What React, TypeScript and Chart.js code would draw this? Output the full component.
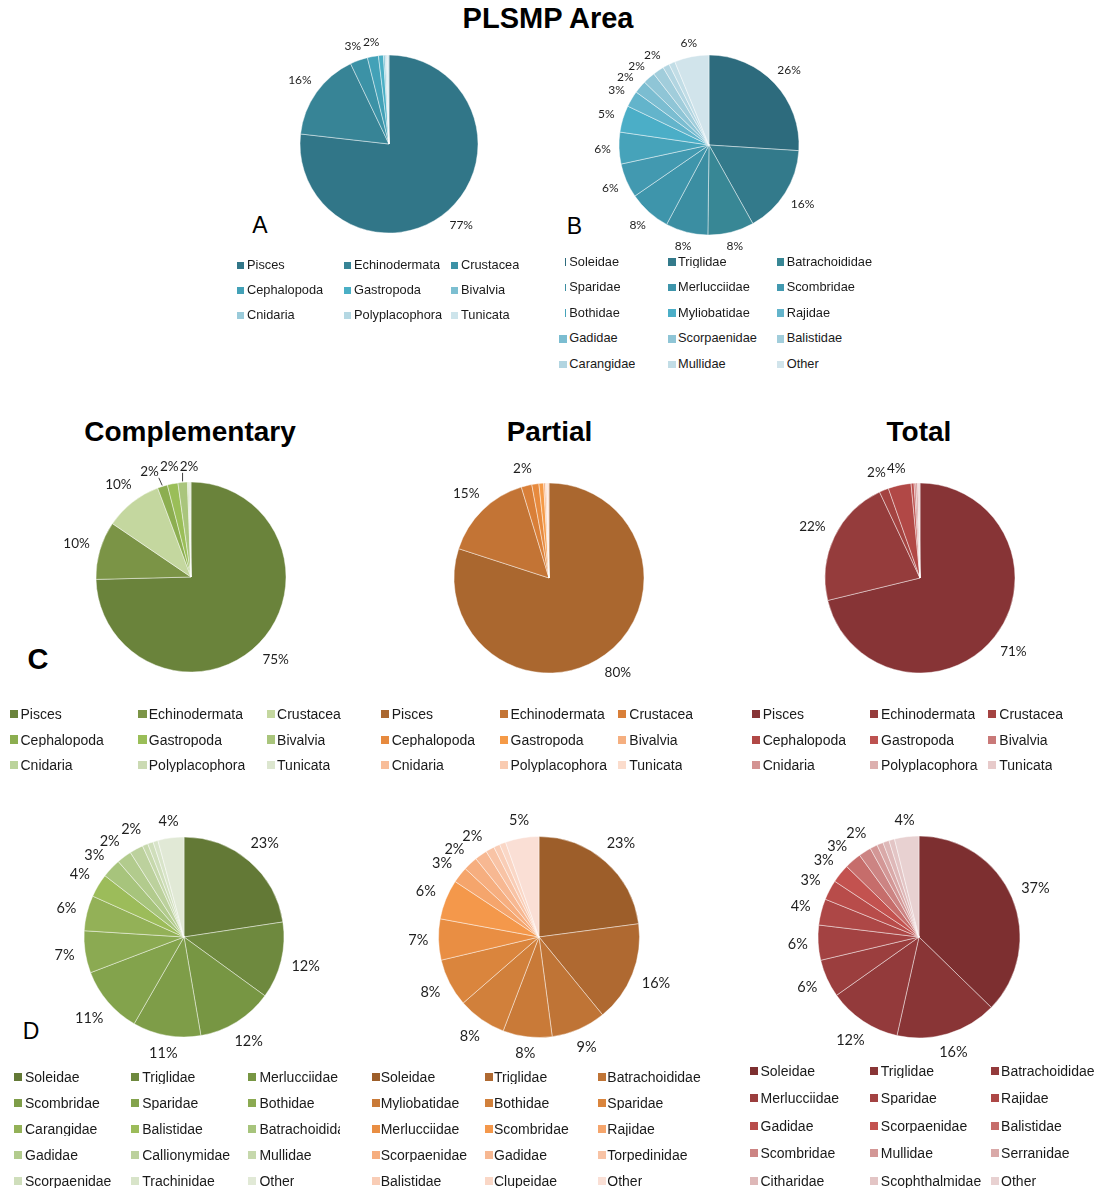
import React, { useEffect, useRef } from "react";
import { Chart, registerables } from "chart.js";

Chart.register(...registerables);

// ---------- DATA ----------
const taxaGroups = ["Pisces", "Echinodermata", "Crustacea", "Cephalopoda", "Gastropoda", "Bivalvia", "Cnidaria", "Polyplacophora", "Tunicata"];
const plsmpTaxaValues = [76.8, 16.1, 3.2, 2.0, 0.9, 0.3, 0.2, 0.2, 0.3];
const complementaryTaxaValues = [74.6, 9.9, 9.8, 1.7, 1.8, 1.6, 0.2, 0.2, 0.2];
const partialTaxaValues = [80.0, 15.3, 1.8, 1.2, 0.8, 0.3, 0.2, 0.1, 0.3];
const totalTaxaValues = [71.2, 21.8, 1.6, 3.9, 0.5, 0.3, 0.3, 0.2, 0.2];

const plsmpFamilies = ["Soleidae", "Triglidae", "Batrachoididae", "Sparidae", "Merlucciidae", "Scombridae", "Bothidae", "Myliobatidae", "Rajidae", "Gadidae", "Scorpaenidae", "Balistidae", "Carangidae", "Mullidae", "Other"];
const plsmpFamilyValues = [26.0, 15.9, 8.3, 7.6, 7.6, 6.2, 5.7, 4.8, 2.9, 2.3, 2.2, 2.0, 1.2, 1.1, 6.2];

const complementaryFamilies = ["Soleidae", "Triglidae", "Merlucciidae", "Scombridae", "Sparidae", "Bothidae", "Carangidae", "Balistidae", "Batrachoididae", "Gadidae", "Callionymidae", "Mullidae", "Scorpaenidae", "Trachinidae", "Other"];
const complementaryFamilyValues = [22.6, 12.4, 12.3, 11.0, 10.9, 6.8, 5.7, 3.8, 3.1, 2.4, 2.2, 0.9, 0.9, 0.8, 4.2];

const partialFamilies = ["Soleidae", "Triglidae", "Batrachoididae", "Myliobatidae", "Bothidae", "Sparidae", "Merlucciidae", "Scombridae", "Rajidae", "Scorpaenidae", "Gadidae", "Torpedinidae", "Balistidae", "Clupeidae", "Other"];
const partialFamilyValues = [22.9, 16.2, 8.8, 7.9, 7.8, 7.7, 6.6, 6.4, 2.6, 2.3, 2.0, 1.4, 1.0, 1.0, 5.4];

const totalFamilies = ["Soleidae", "Triglidae", "Batrachoididae", "Merlucciidae", "Sparidae", "Rajidae", "Gadidae", "Scorpaenidae", "Balistidae", "Scombridae", "Mullidae", "Serranidae", "Citharidae", "Scophthalmidae", "Other"];
const totalFamilyValues = [37.3, 16.2, 11.7, 6.1, 5.6, 4.2, 3.2, 3.0, 2.7, 2.0, 1.2, 1.0, 1.0, 0.9, 3.9];

// ---------- COLOURS ----------
const plsmpTaxaColors = ["#317688", "#378496", "#3C92A6", "#43A1B7", "#4AAFC5", "#7CBFD1", "#9ACBDA", "#B5D8E3", "#CDE4EB"];
const plsmpFamilyColors = ["#2D6B7D", "#337A8B", "#388795", "#3B8EA2", "#3E95AB", "#4299B0", "#46A3BA", "#4BAEC7", "#63B4CB", "#7BBDD1", "#8FC5D6", "#A1CDDB", "#B2D5E1", "#C2DDE6", "#D1E4EB"];
const plsmpThinMarkers = ["Soleidae", "Sparidae", "Bothidae"];
const compTaxaColors = ["#6A833B", "#7B9446", "#C4D79F", "#8CAE50", "#9ABE58", "#A9C57C", "#BBD39B", "#CBDAB3", "#DCE6CF"];
const partialTaxaColors = ["#AA672F", "#C37435", "#D97F38", "#E78A3E", "#F59A47", "#F5AF80", "#F8BD99", "#F9CBB1", "#FBDCCC"];
const totalTaxaColors = ["#873436", "#953C3C", "#A44341", "#B14846", "#BD5250", "#C97978", "#D39392", "#DDB0AF", "#E7CACA"];
const compFamilyColors = ["#637936", "#6E893E", "#779643", "#7E9D48", "#83A34C", "#8BAA52", "#93B157", "#9CBC5A", "#A7C47C", "#B2CB8D", "#BCD19D", "#C6D8AC", "#CFDEBB", "#D8E4C9", "#E1E9D6"];
const partialFamilyColors = ["#9D5E2A", "#AF6931", "#BF7436", "#C97A38", "#D1803B", "#DA853D", "#E98E43", "#F4984B", "#F5A56C", "#F6AE7F", "#F7B892", "#F8C3A5", "#F9CDB6", "#FAD7C6", "#FADFD5"];
const totalFamilyColors = ["#7D2F30", "#893536", "#933A3B", "#9B3E3E", "#A34242", "#AD4746", "#B84C4A", "#C3524F", "#C66D6B", "#CC8483", "#D39796", "#D9A9A8", "#DEB8B8", "#E3C5C5", "#E8D1D1"];

// ---------- LABEL PLUGIN ----------
const pctLabelPlugin = {
  id: "pctLabels",
  afterDatasetsDraw(chart: any, _args: any, opts: any) {
    const ctx = chart.ctx;
    const meta = chart.getDatasetMeta(0);
    const data = chart.data.datasets[0].data as number[];
    const total = data.reduce((a, b) => a + b, 0);
    const fs = opts.fontSize || 12;
    const gap = opts.gap || 8;
    const hb = fs * 0.8;
    ctx.save();
    ctx.font = `${fs}px Lato, "Open Sans", sans-serif`;
    const items: any[] = [];
    meta.data.forEach((arc: any, i: number) => {
      const pct = Math.round((data[i] / total) * 100 + 1e-6);
      if (pct < 2) return;
      const p = arc.getProps(["x", "y", "startAngle", "endAngle", "outerRadius"], true);
      const mid = (p.startAngle + p.endAngle) / 2;
      const text = pct + "%";
      const w = ctx.measureText(text).width;
      items.push({ text, w, mid, ang: mid, cx: p.x, cy: p.y, R: p.outerRadius, x: 0, y: 0 });
    });
    const place = (it: any) => {
      const dx = Math.cos(it.ang), dy = Math.sin(it.ang);
      const d = it.R + gap + (Math.abs(dx) * it.w) / 2 + (Math.abs(dy) * hb) / 2;
      it.x = it.cx + dx * d;
      it.y = it.cy + dy * d;
    };
    items.forEach(place);
    const overlap = (a: any, b: any) => Math.abs(a.x - b.x) < (a.w + b.w) / 2 + 1 && Math.abs(a.y - b.y) < hb + 1.5;
    const step = Math.PI / 720;
    for (let iter = 0; iter < 500; iter++) {
      let moved = false;
      for (let i = 0; i < items.length; i++) {
        for (let j = i + 1; j < items.length; j++) {
          if (overlap(items[i], items[j])) {
            items[i].ang -= step;
            items[j].ang += step;
            place(items[i]);
            place(items[j]);
            moved = true;
          }
        }
      }
      if (!moved) break;
    }
    ctx.fillStyle = "#1e1e1e";
    ctx.textAlign = "center";
    ctx.textBaseline = "middle";
    items.forEach((it) => {
      if (Math.abs(it.ang - it.mid) > 0.045) {
        const sx = it.cx + Math.cos(it.mid) * (it.R + 1);
        const sy = it.cy + Math.sin(it.mid) * (it.R + 1);
        const ex = Math.min(Math.max(sx, it.x - it.w / 2), it.x + it.w / 2);
        const ey = Math.min(Math.max(sy, it.y - hb / 2 - 1), it.y + hb / 2 + 1);
        ctx.strokeStyle = "#404040";
        ctx.lineWidth = 1;
        ctx.beginPath();
        ctx.moveTo(sx, sy);
        ctx.lineTo(ex, ey);
        ctx.stroke();
      }
      ctx.fillText(it.text, it.x, it.y);
    });
    ctx.restore();
  },
};

// ---------- COMPONENTS ----------
function PieChart(props: any) {
  const { values, labels, colors, cx, cy, r, fontSize, gap } = props;
  const ref = useRef<HTMLCanvasElement>(null);
  const S = 330;
  useEffect(() => {
    const pad = S / 2 - r - 0.4;
    const chart = new Chart(ref.current as HTMLCanvasElement, {
      type: "pie",
      data: {
        labels,
        datasets: [
          {
            data: values,
            backgroundColor: colors,
            borderColor: "rgba(255,255,255,0.55)",
            borderWidth: 0.8,
          },
        ],
      },
      options: {
        responsive: false,
        animation: false,
        events: [],
        layout: { padding: pad },
        plugins: {
          legend: { display: false },
          tooltip: { enabled: false },
          pctLabels: { fontSize, gap },
        } as any,
      },
      plugins: [pctLabelPlugin as any],
    });
    return () => chart.destroy();
  }, []);
  return (
    <canvas
      ref={ref}
      width={S}
      height={S}
      style={{ position: "absolute", left: cx - S / 2, top: cy - S / 2, width: S, height: S }}
    />
  );
}

function Legend(props: any) {
  const { names, colors, left, top, colW, rowH, fontSize, marker, textOffset, lastColMax, thin } = props;
  return (
    <>
      {names.map((n: string, i: number) => {
        const col = i % 3;
        const row = Math.floor(i / 3);
        const x = left + col * colW;
        const y = top + row * rowH;
        const isThin = thin && thin.includes(n);
        return (
          <div
            key={i}
            style={{ position: "absolute", left: x, top: y - 10, height: 20, display: "flex", alignItems: "center", whiteSpace: "nowrap" }}
          >
            <div style={{ width: marker, height: marker, position: "relative", flex: "none" }}>
              <div
                style={
                  isThin
                    ? { position: "absolute", right: 1, top: 0, width: 1.3, height: marker, background: colors[i] }
                    : { width: marker, height: marker, background: colors[i] }
                }
              />
            </div>
            <div
              style={{
                marginLeft: textOffset - marker,
                fontFamily: '"Liberation Sans", Arial, sans-serif',
                fontSize,
                color: "#1a1a1a",
                lineHeight: 1,
                overflow: "hidden",
                maxWidth: col === 2 && lastColMax ? lastColMax : 200,
              }}
            >
              {n}
            </div>
          </div>
        );
      })}
    </>
  );
}

function Label(props: any) {
  const { text, x, y, size, bold } = props;
  return (
    <div
      style={{
        position: "absolute",
        left: x,
        top: y - 0.4885 * size,
        transform: "translateX(-50%)",
        fontFamily: '"Liberation Sans", Arial, sans-serif',
        fontSize: size,
        fontWeight: bold ? 700 : 400,
        lineHeight: 1,
        whiteSpace: "nowrap",
        color: "#000",
      }}
    >
      {text}
    </div>
  );
}

export default function App() {
  return (
    <div style={{ position: "absolute", left: 0, top: 0, width: 1103, height: 1191, background: "#fff", overflow: "hidden" }}>
      <Label text="PLSMP Area" x={548} y={18} size={29} bold />
      <Label text="Complementary" x={190} y={432} size={28} bold />
      <Label text="Partial" x={549.5} y={432} size={28} bold />
      <Label text="Total" x={919} y={432} size={28} bold />

      <Label text="A" x={260} y={225} size={23} />
      <Label text="B" x={574.5} y={226} size={23} />
      <Label text="C" x={38} y={659} size={29} bold />
      <Label text="D" x={31} y={1031} size={23} />

      <PieChart values={plsmpTaxaValues} labels={taxaGroups} colors={plsmpTaxaColors} cx={389} cy={143.5} r={89} fontSize={12} gap={8} />
      <PieChart values={plsmpFamilyValues} labels={plsmpFamilies} colors={plsmpFamilyColors} cx={708.5} cy={145} r={90} fontSize={12} gap={8} />
      <PieChart values={complementaryTaxaValues} labels={taxaGroups} colors={compTaxaColors} cx={190.5} cy={577} r={95} fontSize={13.5} gap={10} />
      <PieChart values={partialTaxaValues} labels={taxaGroups} colors={partialTaxaColors} cx={549} cy={577.5} r={95} fontSize={13.5} gap={10} />
      <PieChart values={totalTaxaValues} labels={taxaGroups} colors={totalTaxaColors} cx={919.5} cy={577.5} r={95} fontSize={13.5} gap={10} />
      <PieChart values={complementaryFamilyValues} labels={complementaryFamilies} colors={compFamilyColors} cx={183.5} cy={937} r={100} fontSize={14.5} gap={10} />
      <PieChart values={partialFamilyValues} labels={partialFamilies} colors={partialFamilyColors} cx={538.5} cy={936.5} r={100.5} fontSize={14.5} gap={10} />
      <PieChart values={totalFamilyValues} labels={totalFamilies} colors={totalFamilyColors} cx={919} cy={937} r={101} fontSize={14.5} gap={10} />

      <Legend names={taxaGroups} colors={plsmpTaxaColors} left={237} top={265.5} colW={107} rowH={25} fontSize={12.8} marker={7} textOffset={10} />
      <Legend names={plsmpFamilies} colors={plsmpFamilyColors} thin={plsmpThinMarkers} left={559.3} top={262} colW={108.7} rowH={25.6} fontSize={12.8} marker={7.5} textOffset={10} />
      <Legend names={taxaGroups} colors={compTaxaColors} left={10} top={714.3} colW={128.3} rowH={25.3} fontSize={14} marker={8.3} textOffset={10.5} />
      <Legend names={taxaGroups} colors={partialTaxaColors} left={380.7} top={714.3} colW={118.8} rowH={25.3} fontSize={14} marker={8} textOffset={11} />
      <Legend names={taxaGroups} colors={totalTaxaColors} left={751.7} top={714.3} colW={118.3} rowH={25.3} fontSize={14} marker={8} textOffset={11} />
      <Legend names={complementaryFamilies} colors={compFamilyColors} left={14} top={1076.7} colW={117.2} rowH={26} fontSize={14} marker={8} textOffset={11} lastColMax={81} />
      <Legend names={partialFamilies} colors={partialFamilyColors} left={371.7} top={1076.7} colW={113.3} rowH={26} fontSize={14} marker={8} textOffset={9} />
      <Legend names={totalFamilies} colors={totalFamilyColors} left={750} top={1071} colW={120.3} rowH={27.4} fontSize={14} marker={8} textOffset={10.5} />
    </div>
  );
}
